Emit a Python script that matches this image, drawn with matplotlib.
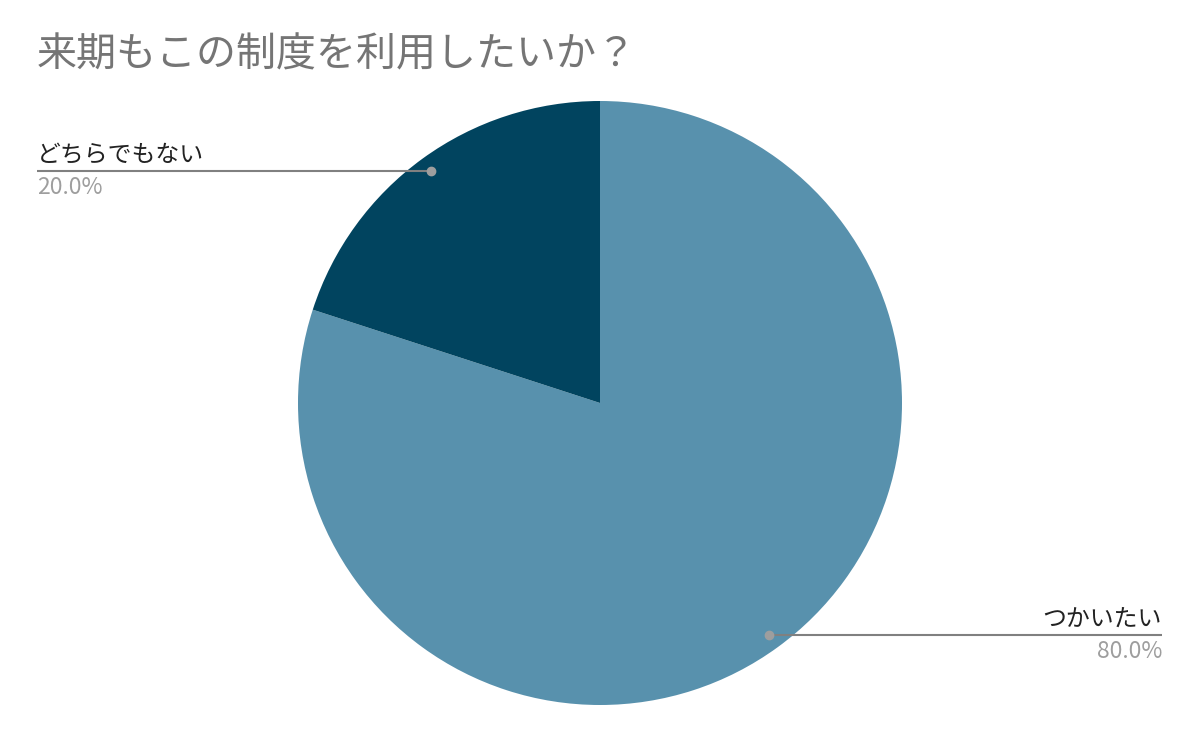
import numpy as np
import matplotlib
matplotlib.use("Agg")
import matplotlib.pyplot as plt

title = "来期もこの制度を利用したいか？"
labels = ["つかいたい", "どちらでもない"]
values = [80.0, 20.0]
colors = ["#5891AD", "#01445F"]

W, H = 1200, 742
fig = plt.figure(figsize=(12, 7.42), dpi=100)
ax = fig.add_axes([0, 0, 1, 1])

cx, cy, r = 600, H - 403, 302
wedges, _ = ax.pie(values, colors=colors, startangle=90, counterclock=False,
                   center=(cx, cy), radius=r, frame=True,
                   wedgeprops=dict(linewidth=0))
ax.set_xlim(0, W)
ax.set_ylim(0, H)
ax.set_aspect("equal")
ax.axis("off")

jp = ["Noto Sans CJK JP", "DejaVu Sans"]
fig.text(37 / W, 1 - 55 / H, title, fontsize=28.8, color="#757575",
         family=jp, va="center", ha="left")

total = sum(values)
for w, lab, v in zip(wedges, labels, values):
    mid = np.deg2rad((w.theta1 + w.theta2) / 2)
    dx, dy = cx + 0.95 * r * np.cos(mid), cy + 0.95 * r * np.sin(mid)
    if np.cos(mid) < 0:
        xend, ha = 37, "left"
    else:
        xend, ha = 1162, "right"
    ax.plot([dx, xend], [dy, dy], color="#808080", lw=1.5, solid_capstyle="butt", zorder=3)
    ax.plot([dx], [dy], "o", color="#9E9E9E", ms=6, zorder=4)
    ax.text(xend, dy + 4, lab, fontsize=17.2, color="#222222", family=jp,
            ha=ha, va="bottom")
    ax.text(xend, dy - 5, f"{v / total * 100:.1f}%", fontsize=16.5, color="#9E9E9E",
            family=jp, ha=ha, va="top")

fig.savefig("out.png", dpi=100, facecolor="white")
